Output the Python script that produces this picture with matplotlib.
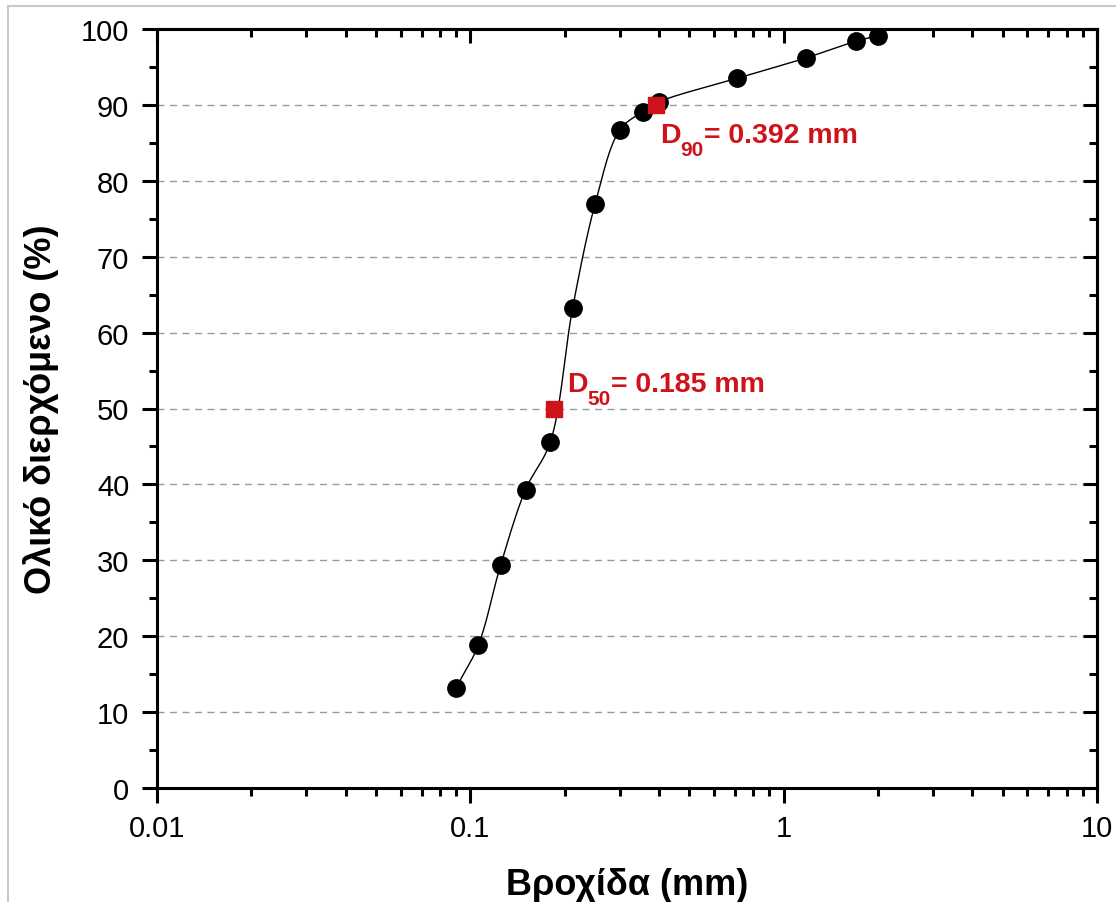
import numpy as np
import matplotlib
matplotlib.use("Agg")
import matplotlib.pyplot as plt
from matplotlib.patches import Rectangle
from matplotlib.ticker import NullFormatter, MultipleLocator

plt.rcParams['font.family'] = ['Liberation Sans', 'DejaVu Sans']

# sieve opening (mm) and cumulative passing (%)
sieve = [0.09, 0.106, 0.125, 0.15, 0.18, 0.212, 0.25, 0.3, 0.355, 0.4, 0.71, 1.18, 1.7, 2.0]
passing = [13.2, 18.8, 29.4, 39.3, 45.6, 63.2, 76.9, 86.7, 89.1, 90.4, 93.5, 96.2, 98.4, 99.1]

d_sizes = [0.185, 0.392]
d_pass = [50, 90]
d_subs = ['50', '90']
d_values = ['= 0.185 mm', '= 0.392 mm']
d_text_pos = [(0.2036, 52.3), (0.403, 85.1)]

xticks = [0.01, 0.1, 1, 10]
xtick_labels = ['0.01', '0.1', '1', '10']

red = '#d0121b'


def smooth(x, y, n=40):
    # centripetal Catmull-Rom through the points (log x, roughly pixel-scaled)
    u = (np.log10(np.asarray(x)) + 2) / 3 * 940
    v = np.asarray(y, float) / 100 * 759
    P = np.column_stack([u, v])
    P = np.vstack([2 * P[0] - P[1], P, 2 * P[-1] - P[-2]])
    out = []
    for i in range(1, len(P) - 2):
        p0, p1, p2, p3 = P[i - 1], P[i], P[i + 1], P[i + 2]
        t0 = 0.0
        t1 = t0 + np.linalg.norm(p1 - p0) ** 0.5
        t2 = t1 + np.linalg.norm(p2 - p1) ** 0.5
        t3 = t2 + np.linalg.norm(p3 - p2) ** 0.5
        t = np.linspace(t1, t2, n)[:, None]
        a1 = (t1 - t) / (t1 - t0) * p0 + (t - t0) / (t1 - t0) * p1
        a2 = (t2 - t) / (t2 - t1) * p1 + (t - t1) / (t2 - t1) * p2
        a3 = (t3 - t) / (t3 - t2) * p2 + (t - t2) / (t3 - t2) * p3
        b1 = (t2 - t) / (t2 - t0) * a1 + (t - t0) / (t2 - t0) * a2
        b2 = (t3 - t) / (t3 - t1) * a2 + (t - t1) / (t3 - t1) * a3
        c = (t2 - t) / (t2 - t1) * b1 + (t - t1) / (t2 - t1) * b2
        out.append(c)
    C = np.vstack(out)
    return 10 ** (C[:, 0] / 940 * 3 - 2), C[:, 1] / 759 * 100


fig = plt.figure(figsize=(11.16, 9.03), dpi=100)
ax = fig.add_axes([157 / 1116, 114 / 903, 940 / 1116, 759 / 903])

fig.patches.append(Rectangle((8 / 1116, -0.1), 1.2, (903 - 7) / 903 + 0.1,
                             transform=fig.transFigure, fill=False,
                             edgecolor='#c8c8c8', lw=1.5))

ax.set_xscale('log')
ax.set_xlim(0.01, 10)
ax.set_ylim(0, 100)

for yv in range(10, 100, 10):
    ax.axhline(yv, color='#9a9a9a', lw=1.0, ls=(0, (5, 4)), zorder=0)

xs, ys = smooth(sieve, passing)
ax.plot(xs, ys, color='black', lw=1.0, zorder=2)
ax.plot(sieve, passing, 'o', color='black', ms=12.5, zorder=3)
ax.plot(d_sizes, d_pass, 's', color=red, ms=11.5, zorder=4)

for sub, val, (tx, ty) in zip(d_subs, d_values, d_text_pos):
    t1 = ax.text(tx, ty, 'D', color=red, fontsize=20.5, fontweight='bold',
                 ha='left', va='baseline')
    t2 = ax.annotate(sub, xy=(1, ty), xycoords=(t1, 'data'),
                     xytext=(0, -9.5), textcoords='offset points',
                     color=red, fontsize=15, fontweight='bold',
                     ha='left', va='baseline')
    ax.annotate(val, xy=(1, ty), xycoords=(t2, 'data'),
                xytext=(0, 0), textcoords='offset points',
                color=red, fontsize=20.5, fontweight='bold',
                ha='left', va='baseline')

ax.set_xticks(xticks)
ax.set_xticklabels(xtick_labels)
ax.xaxis.set_minor_formatter(NullFormatter())
ax.yaxis.set_major_locator(MultipleLocator(10))
ax.yaxis.set_minor_locator(MultipleLocator(5))

for s in ax.spines.values():
    s.set_linewidth(2.2)

ax.tick_params(which='major', direction='out', length=11, width=2.2,
               labelsize=21, pad=8)
ax.tick_params(which='minor', direction='out', length=6, width=2.2)
ax.tick_params(axis='y', which='major', pad=9)

top = ax.secondary_xaxis('top')
top.set_xticks(xticks)
top.xaxis.set_major_formatter(NullFormatter())
top.xaxis.set_minor_formatter(NullFormatter())
top.tick_params(which='major', direction='in', length=10, width=2.2)
top.tick_params(which='minor', direction='in', length=6, width=2.2)
top.spines['top'].set_linewidth(2.2)

right = ax.secondary_yaxis('right')
right.yaxis.set_major_locator(MultipleLocator(10))
right.yaxis.set_minor_locator(MultipleLocator(5))
right.yaxis.set_major_formatter(NullFormatter())
right.tick_params(which='major', direction='in', length=10, width=2.2)
right.tick_params(which='minor', direction='in', length=6, width=2.2)
right.spines['right'].set_linewidth(2.2)

ax.set_xlabel('Βροχίδα (mm)', fontsize=26, fontweight='bold', labelpad=18)
ax.set_ylabel('Ολικό διερχόμενο (%)', fontsize=26, fontweight='bold', labelpad=16)

fig.savefig('out.png', dpi=100)
